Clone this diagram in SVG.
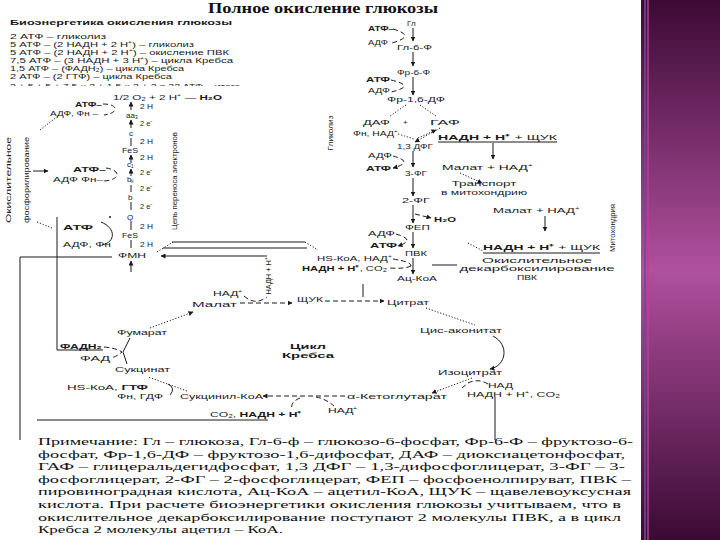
<svg xmlns="http://www.w3.org/2000/svg" width="720" height="540" viewBox="0 0 720 540">
<defs>
<linearGradient id="pg" x1="0" y1="0" x2="0" y2="1">
<stop offset="0" stop-color="#3c0a34"/>
<stop offset="0.5" stop-color="#b0509e"/>
<stop offset="1" stop-color="#3a0a33"/>
</linearGradient>
<marker id="ar" markerWidth="5" markerHeight="5" refX="4.5" refY="2.5" orient="auto" markerUnits="userSpaceOnUse"><path d="M0,0 L5,2.5 L0,5 Z" fill="#1a1a1a"/></marker>
<clipPath id="cl"><rect x="0" y="0" width="330" height="86"/></clipPath>
<style>
.s{font-family:"Liberation Sans",Arial,sans-serif;font-size:8px;fill:#1a1a1a}
.b{font-weight:bold}
.sf{font-family:"Liberation Serif","Times New Roman",serif;fill:#111}
.l{stroke:#1a1a1a;stroke-width:1;fill:none}
.d{stroke-dasharray:1.2 1.8}
.ds{stroke-dasharray:5 3}
</style>
</defs>
<rect width="720" height="540" fill="#fff"/>
<g id="strip">
<rect x="641" y="0" width="79" height="540" fill="url(#pg)"/>
<rect x="644" y="0" width="2" height="540" fill="#6a4a9a" opacity="0.8"/>
<rect x="647" y="0" width="2" height="540" fill="#c03aa0" opacity="0.7"/>
</g>

<g id="title"><text class="sf b" x="208" y="13" font-size="15" textLength="230" lengthAdjust="spacingAndGlyphs">Полное окисление глюкозы</text></g>

<g id="bioenergy">
<text class="s b" x="10" y="25" font-size="7.5" textLength="222" lengthAdjust="spacingAndGlyphs">Биоэнергетика окисления глюкозы</text>
<text class="s" x="10" y="39" font-size="7" textLength="96" lengthAdjust="spacingAndGlyphs">2 АТФ – гликолиз</text>
<text class="s" x="10" y="47" font-size="7" textLength="184" lengthAdjust="spacingAndGlyphs">5 АТФ – (2 НАДН + 2 Н⁺) – гликолиз</text>
<text class="s" x="10" y="55" font-size="7" textLength="219" lengthAdjust="spacingAndGlyphs">5 АТФ – (2 НАДН + 2 Н⁺) – окисление ПВК</text>
<text class="s" x="10" y="63" font-size="7" textLength="223" lengthAdjust="spacingAndGlyphs">7,5 АТФ – (3 НАДН + 3 Н⁺) – цикла Кребса</text>
<text class="s" x="10" y="71" font-size="7" textLength="174" lengthAdjust="spacingAndGlyphs">1,5 АТФ – (ФАДН₂) – цикла Кребса</text>
<text class="s" x="10" y="79" font-size="7" textLength="162" lengthAdjust="spacingAndGlyphs">2 АТФ – (2 ГТФ) – цикла Кребса</text>
<text class="s" x="10" y="89" font-size="7" textLength="230" lengthAdjust="spacingAndGlyphs" clip-path="url(#cl)">2 + 5 + 5 + 7,5 × 2 + 1,5 × 2 + 2 = 32 АТФ – итого</text>
</g>

<g id="side-labels">
<text class="s" transform="translate(11,180) rotate(-90)" text-anchor="middle" textLength="86" lengthAdjust="spacingAndGlyphs">Окислительное</text>
<text class="s" transform="translate(29,180) rotate(-90)" text-anchor="middle" textLength="86" lengthAdjust="spacingAndGlyphs">фосфорилирование</text>
<text class="s" transform="translate(177,181) rotate(-90)" text-anchor="middle" textLength="98" lengthAdjust="spacingAndGlyphs">Цепь переноса электронов</text>
<text class="s" transform="translate(333,133) rotate(-90)" text-anchor="middle" textLength="35" lengthAdjust="spacingAndGlyphs">Гликолиз</text>
<text class="s" transform="translate(615,228) rotate(-90)" text-anchor="middle" textLength="48" lengthAdjust="spacingAndGlyphs">Митохондрия</text>
</g>

<g id="etc">
<text class="s" x="113" y="100" textLength="109" lengthAdjust="spacingAndGlyphs">1/2 O₂ + 2 Н⁺ <tspan class="b">― Н₂O</tspan></text>
<text class="s" x="140" y="109" font-size="7" textLength="13" lengthAdjust="spacingAndGlyphs">2 Н</text>
<text class="s" x="126" y="118" font-size="7" textLength="12" lengthAdjust="spacingAndGlyphs">аа₃</text>
<text class="s" x="140" y="126" font-size="7" textLength="13" lengthAdjust="spacingAndGlyphs">2 e⁻</text>
<text class="s" x="129" y="136" font-size="7">c</text>
<text class="s" x="140" y="144" font-size="7" textLength="13" lengthAdjust="spacingAndGlyphs">2 Н</text>
<text class="s" x="122" y="153" font-size="7" textLength="16" lengthAdjust="spacingAndGlyphs">FeS</text>
<text class="s" x="140" y="160" font-size="7" textLength="13" lengthAdjust="spacingAndGlyphs">2 Н</text>
<text class="s" x="127" y="167" font-size="7">c₁</text>
<text class="s" x="140" y="175" font-size="7" textLength="13" lengthAdjust="spacingAndGlyphs">2 e⁻</text>
<text class="s" x="127" y="182" font-size="7">bₖ</text>
<text class="s" x="140" y="191" font-size="7" textLength="13" lengthAdjust="spacingAndGlyphs">2 e⁻</text>
<text class="s" x="128" y="200" font-size="7">b</text>
<text class="s" x="140" y="209" font-size="7" textLength="13" lengthAdjust="spacingAndGlyphs">2 e⁻</text>
<text class="s" x="127" y="220" font-size="7">Q</text>
<text class="s" x="140" y="229" font-size="7" textLength="13" lengthAdjust="spacingAndGlyphs">2 Н</text>
<text class="s" x="122" y="238" font-size="7" textLength="16" lengthAdjust="spacingAndGlyphs">FeS</text>
<text class="s" x="140" y="247" font-size="7" textLength="13" lengthAdjust="spacingAndGlyphs">2 Н</text>
<text class="s" x="118" y="258" textLength="28" lengthAdjust="spacingAndGlyphs">ФМН</text>
</g>

<g id="oxphos-atp">
<text class="s b" x="75" y="107" textLength="27" lengthAdjust="spacingAndGlyphs">АТФ–</text>
<text class="s" x="50" y="116" textLength="48" lengthAdjust="spacingAndGlyphs">АДФ, Фн –</text>
<text class="s b" x="73" y="172" textLength="33" lengthAdjust="spacingAndGlyphs">АТФ–</text>
<text class="s" x="53" y="182" textLength="50" lengthAdjust="spacingAndGlyphs">АДФ Фн–</text>
<text class="s b" x="63" y="230" textLength="30" lengthAdjust="spacingAndGlyphs">АТФ</text>
<text class="s" x="63" y="247" textLength="48" lengthAdjust="spacingAndGlyphs">АДФ, Фн</text>
</g>

<g id="glycolysis">
<text class="s" x="407" y="26">Гл</text>
<text class="s b" x="368" y="31" textLength="26" lengthAdjust="spacingAndGlyphs">АТФ–</text>
<text class="s" x="368" y="45" textLength="20" lengthAdjust="spacingAndGlyphs">АДФ</text>
<text class="s" x="397" y="50" textLength="35" lengthAdjust="spacingAndGlyphs">Гл-6-Ф</text>
<text class="s" x="397" y="75" textLength="33" lengthAdjust="spacingAndGlyphs">Фр-6-Ф</text>
<text class="s b" x="366" y="82" textLength="24" lengthAdjust="spacingAndGlyphs">АТФ</text>
<text class="s" x="368" y="93" textLength="22" lengthAdjust="spacingAndGlyphs">АДФ</text>
<text class="s" x="387" y="102" textLength="58" lengthAdjust="spacingAndGlyphs">Фр-1,6-ДФ</text>
<text class="s" x="363" y="125" textLength="27" lengthAdjust="spacingAndGlyphs">ДАФ</text>
<text class="s" x="403" y="125">+</text>
<text class="s" x="430" y="125" textLength="30" lengthAdjust="spacingAndGlyphs">ГАФ</text>
<text class="s" x="353" y="136" textLength="45" lengthAdjust="spacingAndGlyphs">Фн, НАД⁺</text>
<text class="s" x="397" y="149" textLength="36" lengthAdjust="spacingAndGlyphs">1,3 ДФГ</text>
<text class="s" x="368" y="158" textLength="24" lengthAdjust="spacingAndGlyphs">АДФ</text>
<text class="s b" x="366" y="171" textLength="25" lengthAdjust="spacingAndGlyphs">АТФ</text>
<text class="s" x="405" y="176" textLength="22" lengthAdjust="spacingAndGlyphs">3-ФГ</text>
<text class="s" x="402" y="203" textLength="28" lengthAdjust="spacingAndGlyphs">2-ФГ</text>
<text class="s b" x="434" y="222" textLength="22" lengthAdjust="spacingAndGlyphs">Н₂O</text>
<text class="s" x="405" y="230" textLength="25" lengthAdjust="spacingAndGlyphs">ФЕП</text>
<text class="s" x="368" y="236" textLength="27" lengthAdjust="spacingAndGlyphs">АДФ</text>
<text class="s b" x="370" y="248" textLength="27" lengthAdjust="spacingAndGlyphs">АТФ</text>
<text class="s" x="405" y="256" textLength="22" lengthAdjust="spacingAndGlyphs">ПВК</text>
<text class="s" x="317" y="261" textLength="75" lengthAdjust="spacingAndGlyphs">НS-КоА, НАД⁺</text>
<text class="s" x="302" y="271" textLength="85" lengthAdjust="spacingAndGlyphs"><tspan class="b">НАДН + Н⁺</tspan>, CO₂</text>
<text class="s" x="397" y="281" textLength="40" lengthAdjust="spacingAndGlyphs">Ац-КоА</text>
</g>

<g id="shuttle">
<text class="s" x="438" y="140" textLength="119" lengthAdjust="spacingAndGlyphs"><tspan class="b">НАДН + Н⁺</tspan>  +  ЩУК</text>
<text class="s" x="442" y="170" textLength="91" lengthAdjust="spacingAndGlyphs">Малат  +  НАД⁺</text>
<text class="s" x="484" y="186" text-anchor="middle" textLength="65" lengthAdjust="spacingAndGlyphs">Транспорт</text>
<text class="s" x="484" y="195" text-anchor="middle" textLength="86" lengthAdjust="spacingAndGlyphs">в митохондрию</text>
<text class="s" x="493" y="213" textLength="87" lengthAdjust="spacingAndGlyphs">Малат  +  НАД⁺</text>
<text class="s" x="483" y="250" textLength="117" lengthAdjust="spacingAndGlyphs"><tspan class="b">НАДН + Н⁺</tspan>  +  ЩУК</text>
</g>

<g id="pvk-decarb">
<text class="s" x="537" y="263" font-size="7" text-anchor="middle" textLength="110" lengthAdjust="spacingAndGlyphs">Окислительное</text>
<text class="s" x="537" y="271" font-size="7" text-anchor="middle" textLength="155" lengthAdjust="spacingAndGlyphs">декарбоксилирование</text>
<text class="s" x="527" y="280" font-size="7" text-anchor="middle" textLength="20" lengthAdjust="spacingAndGlyphs">ПВК</text>
</g>

<g id="krebs">
<text class="s" x="213" y="296" textLength="30" lengthAdjust="spacingAndGlyphs">НАД⁺</text>
<text class="s" transform="translate(271,276) rotate(-90)" text-anchor="middle" textLength="37" lengthAdjust="spacingAndGlyphs">НАДН + Н⁺</text>
<text class="s" x="192" y="307" textLength="45" lengthAdjust="spacingAndGlyphs">Малат</text>
<text class="s" x="297" y="302" textLength="26" lengthAdjust="spacingAndGlyphs">ЩУК</text>
<text class="s" x="387" y="305" textLength="42" lengthAdjust="spacingAndGlyphs">Цитрат</text>
<text class="s" x="420" y="333" textLength="82" lengthAdjust="spacingAndGlyphs">Цис-аконитат</text>
<text class="s" x="117" y="335" textLength="50" lengthAdjust="spacingAndGlyphs">Фумарат</text>
<text class="s b" x="60" y="349" textLength="42" lengthAdjust="spacingAndGlyphs">ФАДН₂</text>
<text class="s" x="80" y="361" textLength="30" lengthAdjust="spacingAndGlyphs">ФАД</text>
<text class="s b" x="308" y="349" text-anchor="middle" textLength="36" lengthAdjust="spacingAndGlyphs">Цикл</text>
<text class="s b" x="308" y="358" text-anchor="middle" textLength="52" lengthAdjust="spacingAndGlyphs">Кребса</text>
<text class="s" x="115" y="372" textLength="55" lengthAdjust="spacingAndGlyphs">Сукцинат</text>
<text class="s" x="438" y="375" textLength="64" lengthAdjust="spacingAndGlyphs">Изоцитрат</text>
<text class="s" x="488" y="388" textLength="25" lengthAdjust="spacingAndGlyphs">НАД</text>
<text class="s" x="67" y="390" textLength="81" lengthAdjust="spacingAndGlyphs">НS-КоА, <tspan class="b">ГТФ</tspan></text>
<text class="s" x="117" y="399" textLength="46" lengthAdjust="spacingAndGlyphs">Фн, ГДФ</text>
<text class="s" x="180" y="399" textLength="83" lengthAdjust="spacingAndGlyphs">Сукцинил-КоА</text>
<text class="s" x="347" y="399" textLength="100" lengthAdjust="spacingAndGlyphs">α-Кетоглутарат</text>
<text class="s" x="467" y="397" textLength="93" lengthAdjust="spacingAndGlyphs">НАДН + Н⁺, CO₂</text>
<text class="s" x="210" y="417" textLength="92" lengthAdjust="spacingAndGlyphs">CO₂, <tspan class="b">НАДН + Н⁺</tspan></text>
<text class="s" x="328" y="413" textLength="30" lengthAdjust="spacingAndGlyphs">НАД⁺</text>
</g>

<g id="connectors">
<path class="l" d="M131,110 V102" marker-end="url(#ar)"/>
<path class="l" d="M131,128 V120" marker-end="url(#ar)"/>
<path class="l" d="M131,138 V146"/>
<path class="l" d="M131,163 V155" marker-end="url(#ar)"/>
<path class="l" d="M131,176 V169" marker-end="url(#ar)"/>
<path class="l" d="M131,185 V192"/>
<path class="l" d="M131,202 V210"/>
<path class="l" d="M131,222 V230"/>
<path class="l" d="M131,240 V248"/>
<path class="l" d="M131,272 V261" marker-end="url(#ar)"/>
<path class="l ds" d="M103,104 C119,104 119,113 104,115"/>
<path class="l ds" d="M106,168 C121,170 121,180 104,181"/>
<path class="l" d="M101,222 C116,228 116,242 102,245"/>
<circle cx="110" cy="217" r="1" fill="#1a1a1a"/>
<path class="l d" d="M40,130 L58,116"/>
<path class="l" d="M33,171 H48" marker-end="url(#ar)"/>
<path class="l d" d="M37,222 L52,228"/>
<path class="l" d="M172,242 H305"/>
<path class="l d" d="M305,242 L318,250"/>
<path class="l" d="M163,248 H307"/>
<path class="l" d="M267,256 H161" marker-end="url(#ar)"/>
<path class="l d" d="M157,252 L173,242"/>
<path class="l" d="M112,257 H20 V440"/>
<path class="l" d="M57,217 V350 H103"/>
<path class="l" d="M37,420 H268"/>
<path class="l" d="M495,397 V440"/>
<path class="l" d="M413,28 V41" marker-end="url(#ar)"/>
<path class="l ds" d="M393,29 Q417,36 392,43"/>
<path class="l" d="M413,52 V66" marker-end="url(#ar)"/>
<path class="l" d="M413,77 V95" marker-end="url(#ar)"/>
<path class="l ds" d="M391,80 Q417,86 391,92"/>
<path class="l d" d="M406,105 L390,116"/>
<path class="l d" d="M420,105 L436,116"/>
<path class="l d" d="M440,128 L415,142" marker-end="url(#ar)"/>
<path class="l d" d="M398,134 Q408,137 414,139"/>
<path class="l d" d="M418,138 L436,130" marker-end="url(#ar)"/>
<path class="l" d="M438,142 H557"/>
<path class="l" d="M493,143 V159" marker-end="url(#ar)"/>
<path class="l" d="M413,151 V167" marker-end="url(#ar)"/>
<path class="l ds" d="M393,156 Q415,162 393,168" marker-end="url(#ar)"/>
<path class="l" d="M413,178 V196" marker-end="url(#ar)"/>
<path class="l d" d="M460,173 L482,183" marker-end="url(#ar)"/>
<path class="l" d="M545,216 V231" marker-end="url(#ar)"/>
<path class="l" d="M413,205 V223" marker-end="url(#ar)"/>
<path class="l ds" d="M415,214 L431,218" marker-end="url(#ar)"/>
<path class="l" d="M413,232 V248" marker-end="url(#ar)"/>
<path class="l ds" d="M396,234 Q417,240 398,246" marker-end="url(#ar)"/>
<path class="l d" d="M468,243 L483,251"/>
<path class="l" d="M483,253 H600"/>
<path class="l" d="M413,258 V274" marker-end="url(#ar)"/>
<path class="l ds" d="M393,259 Q412,262 411,266"/>
<path class="l ds" d="M411,266 Q405,269 390,268"/>
<path class="l" d="M432,265 H457"/>
<path class="l" d="M363,284 V297"/>
<path class="l ds" d="M325,301 H384" marker-end="url(#ar)"/>
<path class="l ds" d="M240,303 H292" marker-end="url(#ar)"/>
<path class="l ds" d="M244,296 Q255,306 267,297"/>
<path class="l d" d="M426,308 L475,325"/>
<path class="l" d="M493,336 C510,345 506,366 490,369" marker-end="url(#ar)"/>
<path class="l d" d="M472,378 L432,393" marker-end="url(#ar)"/>
<path class="l ds" d="M488,384 Q478,378 468,383 L462,388"/>
<path class="l ds" d="M345,396 H263" marker-end="url(#ar)"/>
<path class="l ds" d="M300,398 Q290,402 292,409"/>
<path class="l ds" d="M316,397 Q326,399 334,406"/>
<path class="l d" d="M187,391 L148,377"/>
<path class="l" d="M168,384 Q176,388 170,395"/>
<path class="l" d="M127,364 L123,352 L130,338"/>
<path class="l ds" d="M104,347 Q116,348 122,352 Q116,357 111,358"/>
<path class="l d" d="M150,328 L193,312" marker-end="url(#ar)"/>
</g>

<g id="note" class="sf" font-size="10.8">
<text x="38" y="445" textLength="595" lengthAdjust="spacingAndGlyphs">Примечание: Гл – глюкоза, Гл-6-ф – глюкозо-6-фосфат, Фр-6-Ф – фруктозо-6-</text>
<text x="38" y="457.6" textLength="587" lengthAdjust="spacingAndGlyphs">фосфат, Фр-1,6-ДФ – фруктозо-1,6-дифосфат, ДАФ – диоксиацетонфосфат,</text>
<text x="38" y="470.2" textLength="587" lengthAdjust="spacingAndGlyphs">ГАФ – глицеральдегидфосфат, 1,3 ДФГ – 1,3-дифосфоглицерат, 3-ФГ – 3-</text>
<text x="38" y="482.8" textLength="593" lengthAdjust="spacingAndGlyphs">фосфоглицерат, 2-ФГ – 2-фосфоглицерат, ФЕП – фосфоенолпируват, ПВК –</text>
<text x="38" y="495.4" textLength="593" lengthAdjust="spacingAndGlyphs">пировиноградная кислота, Ац-КоА – ацетил-КоА, ЩУК – щавелевоуксусная</text>
<text x="38" y="508" textLength="583" lengthAdjust="spacingAndGlyphs">кислота. При расчете биоэнергетики окисления глюкозы учитываем, что в</text>
<text x="38" y="520.6" textLength="583" lengthAdjust="spacingAndGlyphs">окислительное декарбоксилирование поступают 2 молекулы ПВК, а в цикл</text>
<text x="38" y="533.2" textLength="245" lengthAdjust="spacingAndGlyphs">Кребса 2 молекулы ацетил – КоА.</text>
</g>
</svg>
